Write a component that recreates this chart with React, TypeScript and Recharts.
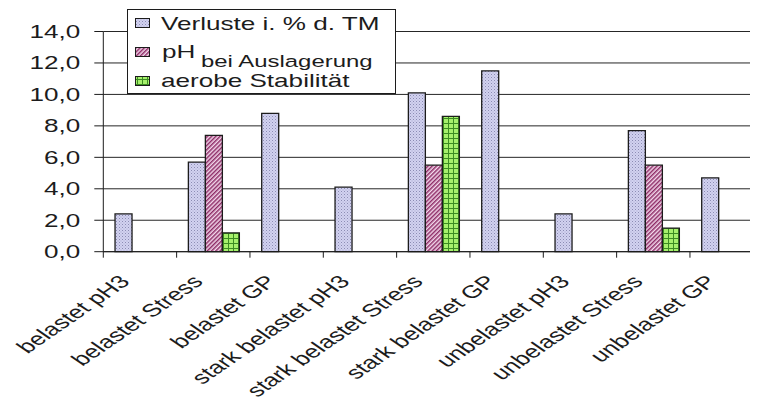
import { BarChart, Bar, XAxis, YAxis, CartesianGrid } from 'recharts'

// Versuchsvarianten und Messwerte
const KATEGORIEN = [
  'belastet pH3',
  'belastet Stress',
  'belastet GP',
  'stark belastet pH3',
  'stark belastet Stress',
  'stark belastet GP',
  'unbelastet pH3',
  'unbelastet Stress',
  'unbelastet GP',
]
const VERLUSTE = [2.4, 5.7, 8.8, 4.1, 10.1, 11.5, 2.4, 7.7, 4.7]
const PH_AUSLAGERUNG = [null, 7.4, null, null, 5.5, null, null, 5.5, null]
const AEROBE_STABILITAET = [null, 1.2, null, null, 8.6, null, null, 1.5, null]
const Y_TICKS = [0, 2, 4, 6, 8, 10, 12, 14]

const data = KATEGORIEN.map((name, i) => ({
  name,
  verluste: VERLUSTE[i],
  ph: PH_AUSLAGERUNG[i],
  aerob: AEROBE_STABILITAET[i],
}))

const CHART_W = 760
const CHART_H = 400
const MARGIN = { top: 23.5, right: 4.7, left: 0, bottom: 6.3 }
const Y_AXIS_W = 95.3
const BAND = (CHART_W - MARGIN.left - MARGIN.right - Y_AXIS_W) / KATEGORIEN.length

// Schrift ist in der Breite gestreckt
const STRETCH = 1.45
const FONT = '"Liberation Sans", Arial, sans-serif'
const INK = '#1c1c1c'

function WertTick({ x, y, payload }: any) {
  return (
    <text
      transform={`translate(${x},${y}) scale(${STRETCH},1)`}
      textAnchor="end"
      dy="0.35em"
      fontSize={18}
      fontFamily={FONT}
      fill={INK}
    >
      {payload.value.toFixed(1).replace('.', ',')}
    </text>
  )
}

function KategorieTick({ x, y, payload }: any) {
  const grenze = x - BAND / 2
  return (
    <g>
      <line x1={grenze} x2={grenze} y1={y} y2={y + 6} stroke={INK} />
      <text
        transform={`translate(${x - 9},${y + 31}) scale(${STRETCH},1) rotate(-45)`}
        textAnchor="end"
        fontSize={18}
        fontFamily={FONT}
        fill={INK}
      >
        {payload.value}
      </text>
    </g>
  )
}

function Muster() {
  return (
    <svg width={0} height={0} style={{ position: 'absolute' }}>
      <defs>
        <pattern id="musterVerluste" width={3} height={3} patternUnits="userSpaceOnUse">
          <rect width={3} height={3} fill="#d2d2f0" />
          <rect x={0} y={0} width={1} height={1} fill="#8c8cb4" />
          <rect x={1.5} y={1.5} width={1} height={1} fill="#a8a8cc" />
        </pattern>
        <pattern
          id="musterPh"
          width={3}
          height={3}
          patternUnits="userSpaceOnUse"
          patternTransform="rotate(45)"
        >
          <rect width={3} height={3} fill="#f3d9ec" />
          <rect width={1.5} height={3} fill="#8e2c66" />
        </pattern>
        <pattern id="musterAerob" width={5} height={5} patternUnits="userSpaceOnUse">
          <rect width={5} height={5} fill="#a6f06c" />
          <rect width={5} height={1} fill="#3c8c22" />
          <rect width={1} height={5} fill="#3c8c22" />
        </pattern>
      </defs>
    </svg>
  )
}

function Legende() {
  const felder = [
    { fill: 'url(#musterVerluste)', y: 9 },
    { fill: 'url(#musterPh)', y: 38 },
    { fill: 'url(#musterAerob)', y: 67 },
  ]
  const text = (x: number, y: number, size: number, s: string) => (
    <text
      transform={`translate(${x},${y}) scale(${STRETCH},1)`}
      fontSize={size}
      fontFamily={FONT}
      fill={INK}
    >
      {s}
    </text>
  )
  return (
    <svg
      width={269}
      height={85}
      style={{ position: 'absolute', left: 119, top: 1 }}
    >
      <rect x={0.5} y={0.5} width={268} height={84} fill="#fff" stroke={INK} />
      {felder.map((f) => (
        <rect key={f.y} x={8.5} y={f.y + 0.5} width={14} height={9} fill={f.fill} stroke={INK} />
      ))}
      {text(34, 21, 18, 'Verluste i. % d. TM')}
      {text(35, 49, 18, 'pH')}
      {text(74, 58, 16.5, 'bei Auslagerung')}
      {text(34, 78, 18, 'aerobe Stabilität')}
    </svg>
  )
}

export default function App() {
  return (
    <div style={{ position: 'relative', width: 750, height: CHART_H, overflow: 'hidden', background: '#fff' }}>
      <Muster />
      <BarChart
        width={CHART_W}
        height={CHART_H}
        data={data}
        margin={MARGIN}
        barCategoryGap="16%"
        barGap={0}
      >
        <CartesianGrid vertical={false} stroke="#262626" />
        <XAxis
          dataKey="name"
          interval={0}
          height={150}
          axisLine={{ stroke: INK }}
          tickLine={false}
          tickSize={0}
          tickMargin={0}
          tick={<KategorieTick />}
        />
        <YAxis
          width={Y_AXIS_W}
          domain={[0, 14]}
          ticks={Y_TICKS}
          interval={0}
          axisLine={{ stroke: INK }}
          tickLine={{ stroke: INK }}
          tickSize={9}
          tickMargin={14}
          tick={<WertTick />}
        />
        <Bar dataKey="verluste" fill="url(#musterVerluste)" stroke={INK} strokeWidth={1.3} isAnimationActive={false} />
        <Bar dataKey="ph" fill="url(#musterPh)" stroke={INK} strokeWidth={1.3} isAnimationActive={false} />
        <Bar dataKey="aerob" fill="url(#musterAerob)" stroke={INK} strokeWidth={1.3} isAnimationActive={false} />
      </BarChart>
      <Legende />
    </div>
  )
}
